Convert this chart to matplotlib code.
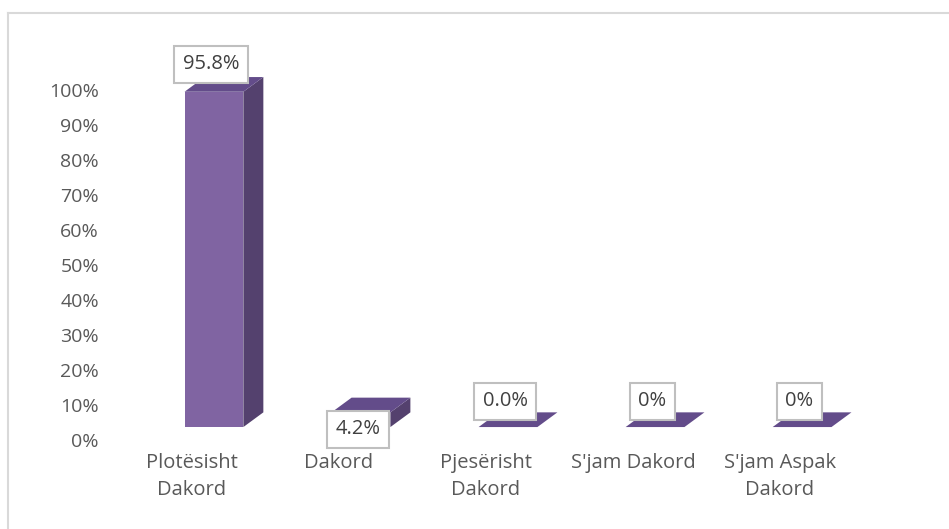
import matplotlib.pyplot as plt
from matplotlib.patches import Polygon
from matplotlib.lines import Line2D

plt.rcParams['font.family'] = ['Open Sans', 'DejaVu Sans']

# Data
categories = ['Plotësisht\nDakord', 'Dakord', 'Pjesërisht\nDakord', "S'jam Dakord", "S'jam Aspak\nDakord"]
values = [0.958, 0.042, 0.0, 0.0, 0.0]
labels = ['95.8%', '4.2%', '0.0%', '0%', '0%']
yticks = [i / 10 for i in range(11)]
ytick_labels = ['%d%%' % (i * 10) for i in range(11)]

# Look of the fake 3D bars
front_col = '#8064A2'
side_col = '#54416E'
top_col = '#634C8A'
bar_w = 0.40
dx = 0.136     # depth offset in x (category units)
dy = 0.042     # depth offset in y (axis units)
base = 0.037   # front face starts a bit above the 0% line

W, H = 949, 529
fig = plt.figure(figsize=(W / 100, H / 100), dpi=100)
ax = fig.add_axes([110 / W, (H - 440) / H, 770 / W, 400 / H])
ax.set_xlim(-0.707, 4.53)
ax.set_ylim(0, 400 / 350)

for i, v in enumerate(values):
    x0 = i - bar_w / 2
    x1 = i + bar_w / 2
    y0 = base
    y1 = base + v
    # side face
    ax.add_patch(Polygon([(x1, y0), (x1 + dx, y0 + dy), (x1 + dx, y1 + dy), (x1, y1)],
                         closed=True, facecolor=side_col, edgecolor='none', zorder=2))
    # front face
    if v > 0:
        ax.add_patch(Polygon([(x0, y0), (x1, y0), (x1, y1), (x0, y1)],
                             closed=True, facecolor=front_col, edgecolor='none', zorder=3))
    # top face
    ax.add_patch(Polygon([(x0, y1), (x1, y1), (x1 + dx, y1 + dy), (x0 + dx, y1 + dy)],
                         closed=True, facecolor=top_col, edgecolor='none', zorder=3))

# data labels (boxed)
label_y = [values[0] + base + 0.078, 0.031, 0.111, 0.111, 0.111]
for i, (lab, ly) in enumerate(zip(labels, label_y)):
    ax.text(i - 0.02, ly, lab, ha='center', va='center', fontsize=14.5, color='#404040',
            zorder=5, clip_on=False,
            bbox=dict(boxstyle='square,pad=0.42', facecolor='white', edgecolor='#BFBFBF', linewidth=1.5))

# category labels
for i, c in enumerate(categories):
    ax.text(i - 0.15, -0.038, c, ha='center', va='top', fontsize=14.5, color='#595959',
            linespacing=1.45, clip_on=False)

ax.set_yticks(yticks)
ax.set_yticklabels(ytick_labels, fontsize=14, color='#595959')
ax.tick_params(axis='y', length=0, pad=8)
ax.set_xticks([])
for s in ax.spines.values():
    s.set_visible(False)

# chart frame (only top and left visible in the crop)
fig.add_artist(Line2D([8 / W, 1], [1 - 13 / H, 1 - 13 / H], color='#D9D9D9', linewidth=1.5))
fig.add_artist(Line2D([8 / W, 8 / W], [0, 1 - 13 / H], color='#D9D9D9', linewidth=1.5))

fig.savefig('out.png', dpi=100)
